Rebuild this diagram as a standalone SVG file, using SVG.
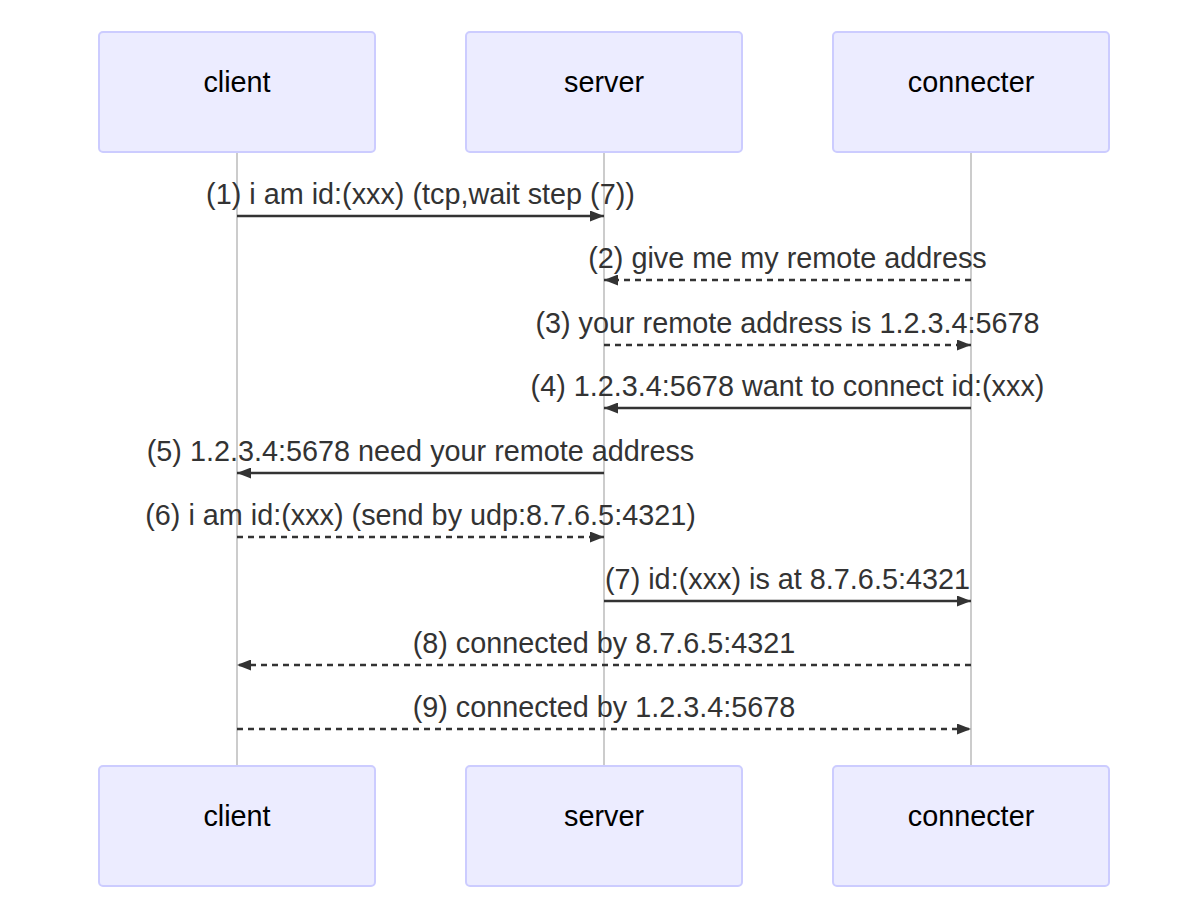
<svg xmlns="http://www.w3.org/2000/svg" width="1200" height="902" viewBox="0 0 1200 902">
<style>
.actor{fill:#ECECFF;stroke:#CCCCFF;stroke-width:2}
.atext{font-family:"Liberation Sans",Arial,sans-serif;font-size:28.8px;fill:#000;text-anchor:middle}
.life{stroke:#999;stroke-width:1}
.msg{stroke:#333;stroke-width:2.4;fill:none}
.dash{stroke-dasharray:6,5}
.mtext{font-family:"Liberation Sans",Arial,sans-serif;font-size:28.8px;fill:#333;text-anchor:middle}
</style>
<defs>
<marker id="ah" markerWidth="14" markerHeight="11" refX="14" refY="5.5" orient="auto" markerUnits="userSpaceOnUse">
<path d="M0,0 L14,5.5 L0,11 Z" fill="#333"/>
</marker>
</defs>
<g id="lifelines">
<line class="life" x1="237" y1="152" x2="237" y2="766"/>
<line class="life" x1="604" y1="152" x2="604" y2="766"/>
<line class="life" x1="971" y1="152" x2="971" y2="766"/>
</g>
<g id="client-top"><rect class="actor" x="99" y="32" width="276" height="120" rx="4"/><text class="atext" x="237" y="92">client</text></g>
<g id="server-top"><rect class="actor" x="466" y="32" width="276" height="120" rx="4"/><text class="atext" x="604" y="92">server</text></g>
<g id="connecter-top"><rect class="actor" x="833" y="32" width="276" height="120" rx="4"/><text class="atext" x="971" y="92">connecter</text></g>
<g id="client-bottom"><rect class="actor" x="99" y="766" width="276" height="120" rx="4"/><text class="atext" x="237" y="826">client</text></g>
<g id="server-bottom"><rect class="actor" x="466" y="766" width="276" height="120" rx="4"/><text class="atext" x="604" y="826">server</text></g>
<g id="connecter-bottom"><rect class="actor" x="833" y="766" width="276" height="120" rx="4"/><text class="atext" x="971" y="826">connecter</text></g>
<g id="connectors">
<line class="msg" x1="237" y1="216" x2="604" y2="216" marker-end="url(#ah)"/>
<text class="mtext" x="420.5" y="204">(1) i am id:(xxx) (tcp,wait step (7))</text>
<line class="msg dash" x1="971" y1="280" x2="604" y2="280" marker-end="url(#ah)"/>
<text class="mtext" x="787.5" y="268">(2) give me my remote address</text>
<line class="msg dash" x1="604" y1="345" x2="971" y2="345" marker-end="url(#ah)"/>
<text class="mtext" x="787.5" y="333">(3) your remote address is 1.2.3.4:5678</text>
<line class="msg" x1="971" y1="408" x2="604" y2="408" marker-end="url(#ah)"/>
<text class="mtext" x="787.5" y="396">(4) 1.2.3.4:5678 want to connect id:(xxx)</text>
<line class="msg" x1="604" y1="473" x2="237" y2="473" marker-end="url(#ah)"/>
<text class="mtext" x="420.5" y="461">(5) 1.2.3.4:5678 need your remote address</text>
<line class="msg dash" x1="237" y1="537" x2="604" y2="537" marker-end="url(#ah)"/>
<text class="mtext" x="420.5" y="525">(6) i am id:(xxx) (send by udp:8.7.6.5:4321)</text>
<line class="msg" x1="604" y1="601" x2="971" y2="601" marker-end="url(#ah)"/>
<text class="mtext" x="787.5" y="589">(7) id:(xxx) is at 8.7.6.5:4321</text>
<line class="msg dash" x1="971" y1="665" x2="237" y2="665" marker-end="url(#ah)"/>
<text class="mtext" x="604" y="653">(8) connected by 8.7.6.5:4321</text>
<line class="msg dash" x1="237" y1="729" x2="971" y2="729" marker-end="url(#ah)"/>
<text class="mtext" x="604" y="717">(9) connected by 1.2.3.4:5678</text>
</g>
</svg>
